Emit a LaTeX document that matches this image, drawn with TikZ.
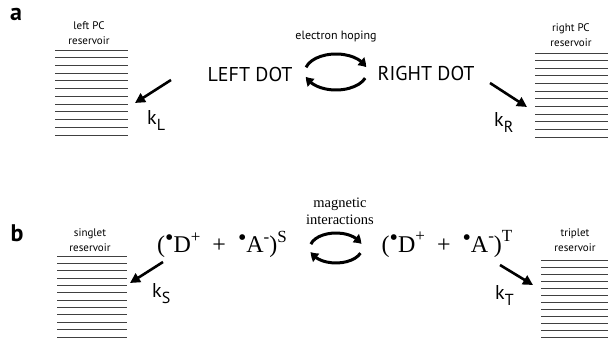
\documentclass[tikz,border=0pt]{standalone}
\usepackage{fontspec}
\setmainfont{Liberation Serif}
\setsansfont{PT Sans}
\usepackage{tikz}
\usetikzlibrary{arrows.meta,bending,positioning}

\newcommand\upsc[1]{\raisebox{0.42em}{\fontsize{17}{17}\selectfont #1}}
\newcommand\rbul{\raisebox{0.28em}{\fontsize{24}{24}\selectfont\textbullet}}
\newcommand\lowsc[1]{\raisebox{-0.28em}{\fontsize{16}{16}\selectfont #1}}

\begin{document}
\begin{tikzpicture}[x=1pt,y=1pt,
  panel/.style={font=\sffamily\bfseries\fontsize{24}{28}\selectfont},
  lbl/.style={font=\sffamily\fontsize{11}{15}\selectfont,align=center},
  dotlbl/.style={font=\sffamily\fontsize{20}{24}\selectfont},
  rate/.style={font=\sffamily\fontsize{20}{24}\selectfont,anchor=base west,inner sep=0pt},
  pair/.style={font=\fontsize{24}{28}\selectfont},
  serlbl/.style={font=\fontsize{14.5}{17}\selectfont,align=center},
  resline/.style={draw=black!75,line width=0.9pt},
  rarrow/.style={line width=2.6pt,-{Triangle[length=10pt,width=10pt]}},
  cycarrow/.style={line width=3pt,-{Triangle[length=8pt,width=10pt,bend]}}]
\useasboundingbox (0,0) rectangle (608,339);

% panel a
\node[panel] (pa) at (16,325) {a};
\foreach \i in {0,...,11}
  \draw[resline] (55,{289-7.73*\i}) -- (128,{289-7.73*\i});
\foreach \i in {0,...,11}
  \draw[resline] (535,{286-7.64*\i}) -- (608,{286-7.64*\i});
\node[lbl] (lres) at (89,306) {left PC\\reservoir};
\node[lbl] (rres) at (571,304) {right PC\\reservoir};
\node[dotlbl] (ldot) at (250,264) {LEFT DOT};
\node[dotlbl] (rdot) at (426,265) {RIGHT DOT};
\node[lbl,font=\sffamily\fontsize{12}{15}\selectfont,anchor=base] (hop) at (336,299) {electron hoping};
\coordinate (cyca) at (336,267);
\draw[cycarrow] ([shift={(165:31pt and 18pt)}]cyca) arc[start angle=165,end angle=15,x radius=31pt,y radius=18pt];
\draw[cycarrow] ([shift={(-20:31pt and 18pt)}]cyca) arc[start angle=-20,end angle=-165,x radius=31pt,y radius=18pt];
\coordinate (kLs) at (171,259);
\coordinate (kLe) at (135,236);
\coordinate (kRs) at (490,256);
\coordinate (kRe) at (527,232);
\draw[rarrow] (kLs) -- (kLe);
\draw[rarrow] (kRs) -- (kRe);
\node[rate] (kL) at (147,214) {k\lowsc{L}};
\node[rate] (kR) at (494,212) {k\lowsc{R}};

% panel b
\node[panel] (pb) at (17,106) {b};
\foreach \i in {0,...,11}
  \draw[resline] (57,{83-7.36*\i}) -- (127,{83-7.36*\i});
\foreach \i in {0,...,11}
  \draw[resline] (541,{79-7*\i}) -- (608,{79-7*\i});
\node[lbl] (sres) at (90,99) {singlet\\reservoir};
\node[lbl] (tres) at (575,99) {triplet\\reservoir};
\node[pair] (spair) at (222,95) {(\rbul D\upsc{+}\ \ +\ \ \rbul A\upsc{-})\upsc{S}};
\node[pair] (tpair) at (447,95) {(\rbul D\upsc{+}\ \ +\ \ \rbul A\upsc{-})\upsc{T}};
\node[serlbl] (magn) at (340,128) {magnetic\\interactions};
\coordinate (cycb) at (336,91);
\draw[cycarrow] ([shift={(165:26pt and 15pt)}]cycb) arc[start angle=165,end angle=15,x radius=26pt,y radius=15pt];
\draw[cycarrow] ([shift={(-20:26pt and 15pt)}]cycb) arc[start angle=-20,end angle=-165,x radius=26pt,y radius=15pt];
\coordinate (kSs) at (163,77);
\coordinate (kSe) at (130,56);
\coordinate (kTs) at (500,74);
\coordinate (kTe) at (533,54);
\draw[rarrow] (kSs) -- (kSe);
\draw[rarrow] (kTs) -- (kTe);
\node[rate] (kS) at (152,41) {k\lowsc{S}};
\node[rate] (kT) at (495,39) {k\lowsc{T}};
\end{tikzpicture}
\end{document}
